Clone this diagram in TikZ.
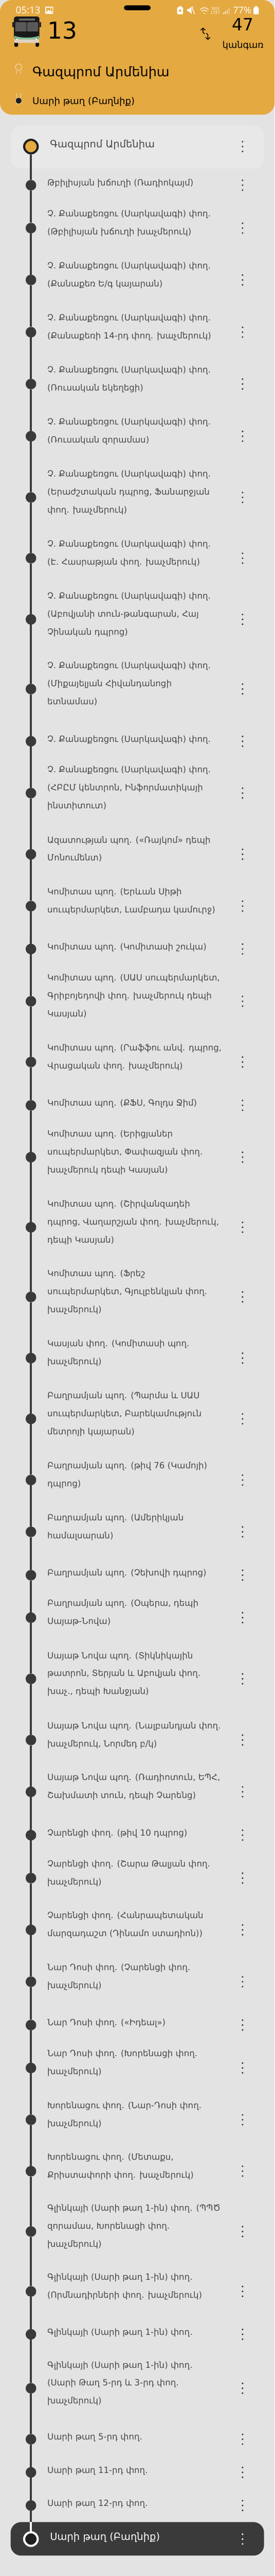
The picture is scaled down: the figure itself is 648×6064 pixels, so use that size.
\documentclass[tikz,border=0pt]{standalone}
\usepackage{fontspec}
\setmainfont{DejaVu Sans}
\newfontfamily\statusfont{Open Sans}
\usetikzlibrary{shapes,positioning,arrows,arrows.meta}
\definecolor{cardorange}{HTML}{E4A941}
\definecolor{screengrey}{HTML}{E3E3E3}
\definecolor{panelgrey}{HTML}{E8E8E8}
\definecolor{routegrey}{HTML}{3A3A3A}
\definecolor{textgrey}{HTML}{484848}
\definecolor{pinbeige}{HTML}{EAD9B4}
\newcommand\listfont{\fontsize{20.15}{42.3}\selectfont}
\newcommand\termfont{\fontsize{23.6}{42.3}\selectfont}
\tikzset{
  stopdot/.style={circle,fill=routegrey,minimum size=25pt,inner sep=0pt,outer sep=0pt},
  stopring/.style={circle,line width=5pt,minimum size=32pt,inner sep=0pt},
  stoptext/.style={right=26pt of #1,yshift=7pt,align=left,inner sep=0pt,text=textgrey,font=\listfont,
    execute at begin node=\strut,execute at end node=\strut},
  endtext/.style={right=26.5pt of #1,yshift=5.5pt,inner sep=0pt,font=\termfont,
    execute at begin node=\strut},
  stopmenu/.style={right of=#1,node distance=499.3pt,minimum width=6pt,minimum height=30pt,inner sep=0pt,
    path picture={\fill[routegrey] (path picture bounding box.center) circle (2.2pt)
      ++(0,11.5pt) circle (2.2pt) ++(0,-23pt) circle (2.2pt);}},
  panel/.style={rounded corners=25pt,minimum width=598pt,inner sep=0pt},
  route/.style={draw=routegrey,line width=5pt},
  statustext/.style={text=white,anchor=base west,inner sep=0pt,font=\statusfont\fontsize{#1}{#1}\selectfont},
  headtext/.style={anchor=base west,inner sep=0pt,text=black},
  pinstub/.style={draw=pinbeige,line width=.7pt},
  swaparrow/.style={-{Straight Barb[length=5pt,width=11pt]},line width=1.8pt}
}
\begin{document}
\begin{tikzpicture}[x=1pt,y=-1pt]
    \useasboundingbox (0,0) rectangle (648,6064);
    \fill[screengrey] (0,0) rectangle (648,6064);

    % header card
    \node[rounded corners=28pt,fill=cardorange,minimum width=648pt,minimum height=270pt,inner sep=0pt] (card) at (324,135) {};
    \node[statustext=22.7] (clock) at (37,32.7) {05:13};
    \fill[white,rounded corners=1.5pt] (107,15.5) rectangle (125.5,33);
    \fill[cardorange] (109,18) rectangle (123.5,30);
    \fill[white] (109,30) -- (114,23) -- (117,26.5) -- (119.5,23.5) -- (123.5,30) -- cycle;
    \fill[white] (119.5,20.5) circle (1.5);
    \fill[black,rounded corners=5.5pt] (292.5,12.7) rectangle (355.5,24);
    % status icons
    \fill[white,rounded corners=1.5pt] (418,17) rectangle (432,33.5);
    \fill[white] (422,14.5) rectangle (428,18);
    \fill[cardorange] (425,21) -- (428.5,27) -- (421.5,27) -- cycle;
    \fill[white] (442,21) -- (446,21) -- (452,15.5) -- (452,33) -- (446,27) -- (442,27) -- cycle;
    \draw[white,line width=1.5pt] (453,15) .. controls (458,19) and (451,21) .. (456,25) .. controls (460,28) and (455,30) .. (460,33);
    \draw[white,line width=1.5pt] (472,23) .. controls (477,16.5) and (487,16.5) .. (492,23);
    \draw[white,line width=1.5pt] (475.5,27) .. controls (479,23) and (485,23) .. (488.5,27);
    \fill[white] (482,31.5) circle (1.7);
    \node[statustext=10] (volte) at (499,23.3) {Vo))};
    \node[statustext=10] (lte) at (497.5,33.3) {LTE1};
    \fill[white] (526,30) rectangle (528,33) (530.5,27) rectangle (532.5,33);
    \fill[white!55!cardorange] (535,23) rectangle (537,33) (539.5,18) rectangle (541.5,33);
    \node[statustext=22] (level) at (549.5,32.7) {77\%};
    \fill[white,rounded corners=1pt] (598,17.5) rectangle (610.5,33.5);
    \fill[white] (601,14.5) rectangle (607.5,18);

    % bus icon
    \fill[black,rounded corners=2pt] (34,96) rectangle (42.5,110) (84,96) rectangle (92,110);
    \fill[black!85,rounded corners=1pt] (29,52) rectangle (33,64) (93,52) rectangle (97,64);
    \fill[black!90,rounded corners=5pt] (33,39) rectangle (93,92);
    \fill[black!60] (45,44) rectangle (82,49);
    \fill[black!65,rounded corners=2pt] (36,52) rectangle (62.5,76) (64,52) rectangle (90,76);
    \fill[black!90] (34,74) rectangle (92,84);
    \fill[teal!55!green!40!white!85!black] (34,84) .. controls (45,90) and (81,90) .. (92,84) -- (92,93) -- (34,93) -- cycle;
    \fill[black!20!brown!30!white,rounded corners=1pt] (34,93) rectangle (92,101);
    \fill[white] (40,92) circle (2.2) (86,92) circle (2.2);
    \fill[black] (38,90) circle (1.1) (88,90) circle (1.1);

    \node[headtext,font=\fontsize{55}{55}\selectfont] (line) at (112,91.7) {13};
    \node[anchor=base,font=\fontsize{40}{40}\selectfont,inner sep=0pt] (count) at (573,71.7) {47};
    \node[anchor=base,font=\fontsize{21.5}{24}\selectfont,inner sep=0pt] (countword) at (573.5,113) {կանգառ};
    \coordinate (upfoot) at (483,80);
    \coordinate (uptip) at (479,65);
    \coordinate (downfoot) at (487,78);
    \coordinate (downtip) at (490.5,94);
    \draw[swaparrow] (upfoot) -- (479,76) -- (uptip);
    \draw[swaparrow] (downfoot) -- (490.5,82) -- (downtip);

    \node[circle,draw=pinbeige,line width=1.5pt,minimum size=15pt,inner sep=0pt] (frompin) at (44,158) {};
    \node[circle,fill=black!88,draw=pinbeige,line width=1pt,minimum size=15pt,inner sep=0pt] (topin) at (44,237) {};
    \path[pinstub] (39,167) -- (39,175) (49,167) -- (49,175) (39,219) -- (39,229) (49,219) -- (49,229);
    \node[headtext,font=\fontsize{30.9}{32}\selectfont] (from) at (76.4,180) {Գազպրոմ Արմենիա};
    \node[headtext,font=\fontsize{22}{24}\selectfont] (to) at (76.4,245) {Սարի թաղ (Բաղնիք)};

    % first and last stop panels
    \node[panel,fill=panelgrey,minimum height=102pt] (firstpanel) at (324,346) {};
    \node[panel,fill=routegrey,minimum height=79pt] (lastpanel) at (324,5976.5) {};

    % stops
    \node[stopring,draw=black!88,fill=cardorange] (s1) at (73,345) {};
    \node[endtext=s1,text=textgrey] (t1) {Գազպրոմ Արմենիա};
    \node[stopmenu=s1] (m1) {};
    \node[stopdot,below of=s1,node distance=91pt] (s2) {};
    \node[stoptext=s2] (t2) {Թբիլիսյան խճուղի (Ռադիոկայմ)};
    \node[stopmenu=s2] (m2) {};
    \node[stopdot,below of=s2,node distance=101pt] (s3) {};
    \node[stoptext=s3] (t3) {Չ. Քանաքեռցու (Սարկավագի) փող.\\(Թբիլիսյան խճուղի խաչմերուկ)};
    \node[stopmenu=s3] (m3) {};
    \node[stopdot,below of=s3,node distance=122pt] (s4) {};
    \node[stoptext=s4] (t4) {Չ. Քանաքեռցու (Սարկավագի) փող.\\(Քանաքեռ Ե/գ կայարան)};
    \node[stopmenu=s4] (m4) {};
    \node[stopdot,below of=s4,node distance=123pt] (s5) {};
    \node[stoptext=s5] (t5) {Չ. Քանաքեռցու (Սարկավագի) փող.\\(Քանաքեռի 14-րդ փող. խաչմերուկ)};
    \node[stopmenu=s5] (m5) {};
    \node[stopdot,below of=s5,node distance=122pt] (s6) {};
    \node[stoptext=s6] (t6) {Չ. Քանաքեռցու (Սարկավագի) փող.\\(Ռուսական եկեղեցի)};
    \node[stopmenu=s6] (m6) {};
    \node[stopdot,below of=s6,node distance=123pt] (s7) {};
    \node[stoptext=s7] (t7) {Չ. Քանաքեռցու (Սարկավագի) փող.\\(Ռուսական զորամաս)};
    \node[stopmenu=s7] (m7) {};
    \node[stopdot,below of=s7,node distance=144pt] (s8) {};
    \node[stoptext=s8] (t8) {Չ. Քանաքեռցու (Սարկավագի) փող.\\(Երաժշտական դպրոց, Ֆանարջյան\\փող. խաչմերուկ)};
    \node[stopmenu=s8] (m8) {};
    \node[stopdot,below of=s8,node distance=143pt] (s9) {};
    \node[stoptext=s9] (t9) {Չ. Քանաքեռցու (Սարկավագի) փող.\\(Է. Հասրաթյան փող. խաչմերուկ)};
    \node[stopmenu=s9] (m9) {};
    \node[stopdot,below of=s9,node distance=144pt] (s10) {};
    \node[stoptext=s10] (t10) {Չ. Քանաքեռցու (Սարկավագի) փող.\\(Աբովյանի տուն-թանգարան, Հայ\\Չինական դպրոց)};
    \node[stopmenu=s10] (m10) {};
    \node[stopdot,below of=s10,node distance=164pt] (s11) {};
    \node[stoptext=s11] (t11) {Չ. Քանաքեռցու (Սարկավագի) փող.\\(Միքայելյան Հիվանդանոցի\\ետնամաս)};
    \node[stopmenu=s11] (m11) {};
    \node[stopdot,below of=s11,node distance=123pt] (s12) {};
    \node[stoptext=s12] (t12) {Չ. Քանաքեռցու (Սարկավագի) փող.};
    \node[stopmenu=s12] (m12) {};
    \node[stopdot,below of=s12,node distance=122pt] (s13) {};
    \node[stoptext=s13] (t13) {Չ. Քանաքեռցու (Սարկավագի) փող.\\(ՀԲԸՄ կենտրոն, Ինֆորմատիկայի\\ինստիտուտ)};
    \node[stopmenu=s13] (m13) {};
    \node[stopdot,below of=s13,node distance=144pt] (s14) {};
    \node[stoptext=s14] (t14) {Ազատության պող. («Ռայկոմ» դեպի\\Մոնումենտ)};
    \node[stopmenu=s14] (m14) {};
    \node[stopdot,below of=s14,node distance=122pt] (s15) {};
    \node[stoptext=s15] (t15) {Կոմիտաս պող. (Երևան Սիթի\\սուպերմարկետ, Լամբադա կամուրջ)};
    \node[stopmenu=s15] (m15) {};
    \node[stopdot,below of=s15,node distance=101pt] (s16) {};
    \node[stoptext=s16] (t16) {Կոմիտաս պող. (Կոմիտասի շուկա)};
    \node[stopmenu=s16] (m16) {};
    \node[stopdot,below of=s16,node distance=123pt] (s17) {};
    \node[stoptext=s17] (t17) {Կոմիտաս պող. (ՍԱՍ սուպերմարկետ,\\Գրիբոյեդովի փող. խաչմերուկ դեպի\\Կասյան)};
    \node[stopmenu=s17] (m17) {};
    \node[stopdot,below of=s17,node distance=143pt] (s18) {};
    \node[stoptext=s18] (t18) {Կոմիտաս պող. (Րաֆֆու անվ. դպրոց,\\Վրացական փող. խաչմերուկ)};
    \node[stopmenu=s18] (m18) {};
    \node[stopdot,below of=s18,node distance=102pt] (s19) {};
    \node[stoptext=s19] (t19) {Կոմիտաս պող. (ՔՖՍ, Գոլդս Ջիմ)};
    \node[stopmenu=s19] (m19) {};
    \node[stopdot,below of=s19,node distance=122pt] (s20) {};
    \node[stoptext=s20] (t20) {Կոմիտաս պող. (Երիցյաներ\\սուպերմարկետ, Փափազյան փող.\\խաչմերուկ դեպի Կասյան)};
    \node[stopmenu=s20] (m20) {};
    \node[stopdot,below of=s20,node distance=165pt] (s21) {};
    \node[stoptext=s21] (t21) {Կոմիտաս պող. (Շիրվանզադեի\\դպրոց, Վաղարշյան փող. խաչմերուկ,\\դեպի Կասյան)};
    \node[stopmenu=s21] (m21) {};
    \node[stopdot,below of=s21,node distance=164pt] (s22) {};
    \node[stoptext=s22] (t22) {Կոմիտաս պող. (Ֆրեշ\\սուպերմարկետ, Գյուլբենկյան փող.\\խաչմերուկ)};
    \node[stopmenu=s22] (m22) {};
    \node[stopdot,below of=s22,node distance=144pt] (s23) {};
    \node[stoptext=s23] (t23) {Կասյան փող. (Կոմիտասի պող.\\խաչմերուկ)};
    \node[stopmenu=s23] (m23) {};
    \node[stopdot,below of=s23,node distance=143pt] (s24) {};
    \node[stoptext=s24] (t24) {Բաղրամյան պող. (Պարմա և ՍԱՍ\\սուպերմարկետ, Բարեկամություն\\մետրոյի կայարան)};
    \node[stopmenu=s24] (m24) {};
    \node[stopdot,below of=s24,node distance=144pt] (s25) {};
    \node[stoptext=s25] (t25) {Բաղրամյան պող. (թիվ 76 (Կամոյի)\\դպրոց)};
    \node[stopmenu=s25] (m25) {};
    \node[stopdot,below of=s25,node distance=122pt] (s26) {};
    \node[stoptext=s26] (t26) {Բաղրամյան պող. (Ամերիկյան\\համալսարան)};
    \node[stopmenu=s26] (m26) {};
    \node[stopdot,below of=s26,node distance=102pt] (s27) {};
    \node[stoptext=s27] (t27) {Բաղրամյան պող. (Չեխովի դպրոց)};
    \node[stopmenu=s27] (m27) {};
    \node[stopdot,below of=s27,node distance=100pt] (s28) {};
    \node[stoptext=s28] (t28) {Բաղրամյան պող. (Օպերա, դեպի\\Սայաթ-Նովա)};
    \node[stopmenu=s28] (m28) {};
    \node[stopdot,below of=s28,node distance=144pt] (s29) {};
    \node[stoptext=s29] (t29) {Սայաթ Նովա պող. (Տիկնիկային\\թատրոն, Տերյան և Աբովյան փող.\\խաչ., դեպի Խանջյան)};
    \node[stopmenu=s29] (m29) {};
    \node[stopdot,below of=s29,node distance=144pt] (s30) {};
    \node[stoptext=s30] (t30) {Սայաթ Նովա պող. (Նալբանդյան փող.\\խաչմերուկ, Նորմեդ բ/կ)};
    \node[stopmenu=s30] (m30) {};
    \node[stopdot,below of=s30,node distance=122pt] (s31) {};
    \node[stoptext=s31] (t31) {Սայաթ Նովա պող. (Ռադիոտուն, ԵՊՀ,\\Շախմատի տուն, դեպի Չարենց)};
    \node[stopmenu=s31] (m31) {};
    \node[stopdot,below of=s31,node distance=102pt] (s32) {};
    \node[stoptext=s32] (t32) {Չարենցի փող. (թիվ 10 դպրոց)};
    \node[stopmenu=s32] (m32) {};
    \node[stopdot,below of=s32,node distance=101pt] (s33) {};
    \node[stoptext=s33] (t33) {Չարենցի փող. (Շարա Թալյան փող.\\խաչմերուկ)};
    \node[stopmenu=s33] (m33) {};
    \node[stopdot,below of=s33,node distance=122pt] (s34) {};
    \node[stoptext=s34] (t34) {Չարենցի փող. (Հանրապետական\\մարզադաշտ (Դինամո ստադիոն))};
    \node[stopmenu=s34] (m34) {};
    \node[stopdot,below of=s34,node distance=122pt] (s35) {};
    \node[stoptext=s35] (t35) {Նար Դոսի փող. (Չարենցի փող.\\խաչմերուկ)};
    \node[stopmenu=s35] (m35) {};
    \node[stopdot,below of=s35,node distance=102pt] (s36) {};
    \node[stoptext=s36] (t36) {Նար Դոսի փող. («Իդեալ»)};
    \node[stopmenu=s36] (m36) {};
    \node[stopdot,below of=s36,node distance=101pt] (s37) {};
    \node[stoptext=s37] (t37) {Նար Դոսի փող. (Խորենացի փող.\\խաչմերուկ)};
    \node[stopmenu=s37] (m37) {};
    \node[stopdot,below of=s37,node distance=122pt] (s38) {};
    \node[stoptext=s38] (t38) {Խորենացու փող. (Նար-Դոսի փող.\\խաչմերուկ)};
    \node[stopmenu=s38] (m38) {};
    \node[stopdot,below of=s38,node distance=121pt] (s39) {};
    \node[stoptext=s39] (t39) {Խորենացու փող. (Մետաքս,\\Քրիստափորի փող. խաչմերուկ)};
    \node[stopmenu=s39] (m39) {};
    \node[stopdot,below of=s39,node distance=142pt] (s40) {};
    \node[stoptext=s40] (t40) {Գլինկայի (Սարի թաղ 1-ին) փող. (ՊՊԾ\\զորամաս, Խորենացի փող.\\խաչմերուկ)};
    \node[stopmenu=s40] (m40) {};
    \node[stopdot,below of=s40,node distance=141pt] (s41) {};
    \node[stoptext=s41] (t41) {Գլինկայի (Սարի թաղ 1-ին) փող.\\(Որմնադիրների փող. խաչմերուկ)};
    \node[stopmenu=s41] (m41) {};
    \node[stopdot,below of=s41,node distance=101pt] (s42) {};
    \node[stoptext=s42] (t42) {Գլինկայի (Սարի թաղ 1-ին) փող.};
    \node[stopmenu=s42] (m42) {};
    \node[stopdot,below of=s42,node distance=127pt] (s43) {};
    \node[stoptext=s43] (t43) {Գլինկայի (Սարի թաղ 1-ին) փող.\\(Սարի Թաղ 5-րդ և 3-րդ փող.\\խաչմերուկ)};
    \node[stopmenu=s43] (m43) {};
    \node[stopdot,below of=s43,node distance=120pt] (s44) {};
    \node[stoptext=s44] (t44) {Սարի թաղ 5-րդ փող.};
    \node[stopmenu=s44] (m44) {};
    \node[stopdot,below of=s44,node distance=78pt] (s45) {};
    \node[stoptext=s45] (t45) {Սարի թաղ 11-րդ փող.};
    \node[stopmenu=s45] (m45) {};
    \node[stopdot,below of=s45,node distance=78pt] (s46) {};
    \node[stoptext=s46] (t46) {Սարի թաղ 12-րդ փող.};
    \node[stopmenu=s46] (m46) {};
    \node[stopring,draw=white,fill=black!88,below of=s46,node distance=79pt] (s47) {};
    \node[endtext=s47,text=white] (t47) {Սարի թաղ (Բաղնիք)};
    \node[stopmenu=s47,path picture={\fill[white] (path picture bounding box.center) circle (2.2pt)
      ++(0,11.5pt) circle (2.2pt) ++(0,-23pt) circle (2.2pt);}] (m47) {};

    % route
    \coordinate (panelgate) at (lastpanel.north -| s46);
    \path[route]
    (s1) edge (s2)
    (s2) edge (s3)
    (s3) edge (s4)
    (s4) edge (s5)
    (s5) edge (s6)
    (s6) edge (s7)
    (s7) edge (s8)
    (s8) edge (s9)
    (s9) edge (s10)
    (s10) edge (s11)
    (s11) edge (s12)
    (s12) edge (s13)
    (s13) edge (s14)
    (s14) edge (s15)
    (s15) edge (s16)
    (s16) edge (s17)
    (s17) edge (s18)
    (s18) edge (s19)
    (s19) edge (s20)
    (s20) edge (s21)
    (s21) edge (s22)
    (s22) edge (s23)
    (s23) edge (s24)
    (s24) edge (s25)
    (s25) edge (s26)
    (s26) edge (s27)
    (s27) edge (s28)
    (s28) edge (s29)
    (s29) edge (s30)
    (s30) edge (s31)
    (s31) edge (s32)
    (s32) edge (s33)
    (s33) edge (s34)
    (s34) edge (s35)
    (s35) edge (s36)
    (s36) edge (s37)
    (s37) edge (s38)
    (s38) edge (s39)
    (s39) edge (s40)
    (s40) edge (s41)
    (s41) edge (s42)
    (s42) edge (s43)
    (s43) edge (s44)
    (s44) edge (s45)
    (s45) edge (s46)
    (s46) edge (panelgate)
    (panelgate) edge[draw=white] (s47);
\end{tikzpicture}
\end{document}
